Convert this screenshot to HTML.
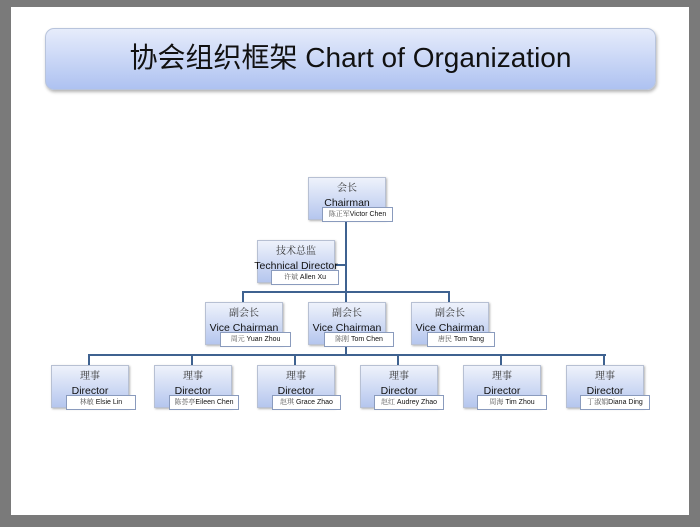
<!DOCTYPE html>
<html><head><meta charset="utf-8"><style>
body{margin:0;width:700px;height:527px;background:#7a7a7a;position:relative;overflow:hidden;font-family:"Liberation Sans","Noto Sans CJK SC",sans-serif}
.page{position:absolute;left:11px;top:7px;width:678px;height:508px;background:#fff}
.title{position:absolute;left:45px;top:28px;width:609px;height:60px;border-radius:9px;border:1px solid #b8c4dc;background:linear-gradient(#e6ecfb,#aec2f1);box-shadow:1px 2px 3px rgba(0,0,0,.3);text-align:center;line-height:58px;font-size:28px;color:#111}
.b{position:absolute;width:76px;height:41px;background:linear-gradient(#eef2fb,#b5c6ee);border:1px solid #b7c0d3;box-shadow:1px 1px 2px rgba(0,0,0,.3);text-align:center;color:#333}
.b .c{font-family:"Noto Serif CJK SC","Noto Sans CJK SC",serif;font-size:10px;margin-top:3px;line-height:12px}
.b .e{font-size:10.5px;margin-top:4px;line-height:12px;color:#111;white-space:nowrap;margin-left:-6px;margin-right:-6px}
.n{position:absolute;height:13px;background:#fff;border:1px solid #8a9bbd;font-size:7px;line-height:13px;text-align:center;color:#111;white-space:nowrap}
.n span{font-family:"Noto Serif CJK SC",serif;color:#555}
.l{position:absolute;background:#3f6290}
</style></head><body>
<div class="page"></div>
<div class="title">协会组织框架 Chart of Organization</div>

<div class="l" style="left:345px;top:219px;width:2px;height:84px"></div>
<div class="l" style="left:335px;top:264px;width:11px;height:2px"></div>
<div class="l" style="left:242px;top:291px;width:208px;height:2px"></div>
<div class="l" style="left:242px;top:291px;width:2px;height:12px"></div>
<div class="l" style="left:448px;top:291px;width:2px;height:12px"></div>
<div class="l" style="left:345px;top:345px;width:2px;height:10px"></div>
<div class="l" style="left:88px;top:354px;width:518px;height:2px"></div>
<div class="l" style="left:88px;top:354px;width:2px;height:12px"></div>
<div class="l" style="left:191px;top:354px;width:2px;height:12px"></div>
<div class="l" style="left:294px;top:354px;width:2px;height:12px"></div>
<div class="l" style="left:397px;top:354px;width:2px;height:12px"></div>
<div class="l" style="left:500px;top:354px;width:2px;height:12px"></div>
<div class="l" style="left:603px;top:354px;width:2px;height:12px"></div>

<div class="b" style="left:308px;top:177px"><div class="c">会长</div><div class="e">Chairman</div></div>
<div class="n" style="left:322px;top:207px;width:69px"><span>陈正军</span>Victor Chen</div>

<div class="b" style="left:257px;top:240px"><div class="c">技术总监</div><div class="e">Technical Director</div></div>
<div class="n" style="left:271px;top:270px;width:66px"><span>许斌</span> Allen Xu</div>

<div class="b" style="left:205px;top:302px"><div class="c">副会长</div><div class="e">Vice Chairman</div></div>
<div class="n" style="left:220px;top:332px;width:69px"><span>周元</span> Yuan Zhou</div>
<div class="b" style="left:308px;top:302px"><div class="c">副会长</div><div class="e">Vice Chairman</div></div>
<div class="n" style="left:324px;top:332px;width:68px"><span>陈刚</span> Tom Chen</div>
<div class="b" style="left:411px;top:302px"><div class="c">副会长</div><div class="e">Vice Chairman</div></div>
<div class="n" style="left:427px;top:332px;width:66px"><span>唐民</span> Tom Tang</div>

<div class="b" style="left:51px;top:365px"><div class="c">理事</div><div class="e">Director</div></div>
<div class="n" style="left:66px;top:395px;width:68px"><span>林敏</span> Elsie Lin</div>
<div class="b" style="left:154px;top:365px"><div class="c">理事</div><div class="e">Director</div></div>
<div class="n" style="left:169px;top:395px;width:68px"><span>陈荟亭</span>Eileen Chen</div>
<div class="b" style="left:257px;top:365px"><div class="c">理事</div><div class="e">Director</div></div>
<div class="n" style="left:272px;top:395px;width:67px"><span>赵琪</span> Grace Zhao</div>
<div class="b" style="left:360px;top:365px"><div class="c">理事</div><div class="e">Director</div></div>
<div class="n" style="left:374px;top:395px;width:68px"><span>赵红</span> Audrey Zhao</div>
<div class="b" style="left:463px;top:365px"><div class="c">理事</div><div class="e">Director</div></div>
<div class="n" style="left:477px;top:395px;width:68px"><span>周海</span> Tim Zhou</div>
<div class="b" style="left:566px;top:365px"><div class="c">理事</div><div class="e">Director</div></div>
<div class="n" style="left:580px;top:395px;width:68px"><span>丁淑娟</span>Diana Ding</div>
</body></html>
